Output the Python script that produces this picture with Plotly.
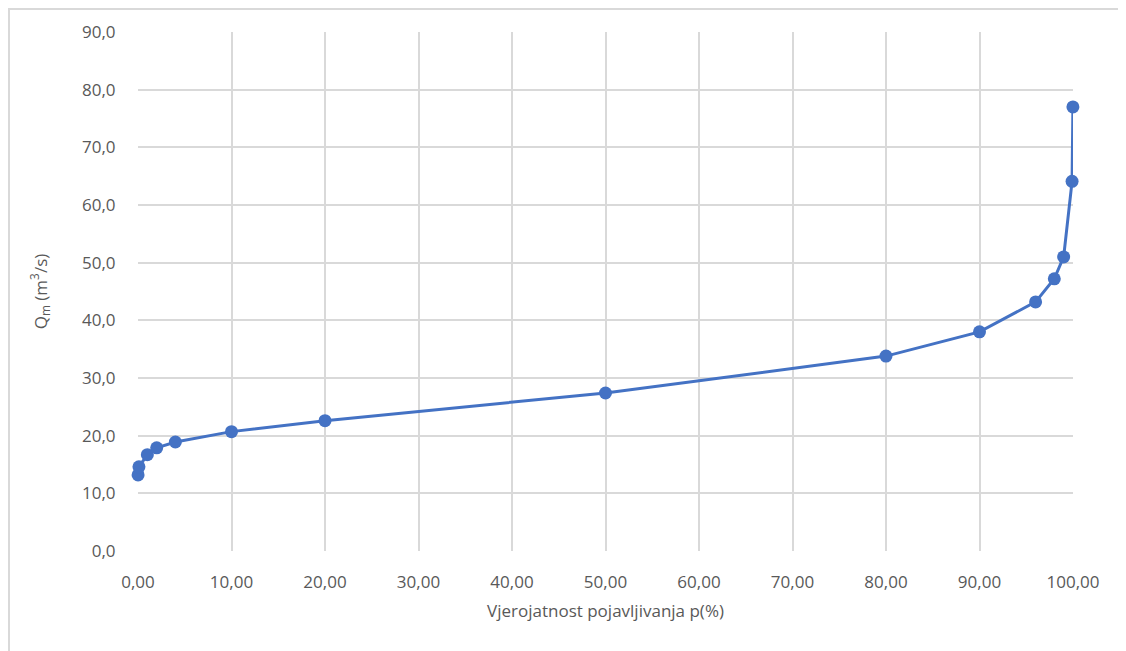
import plotly.graph_objects as go

p_percent = [0.01, 0.1, 1, 2, 4, 10, 20, 50, 80, 90, 96, 98, 99, 99.9, 99.99]
q_m = [13.2, 14.6, 16.7, 17.9, 18.9, 20.7, 22.6, 27.4, 33.8, 38.0, 43.2, 47.2, 51.0, 64.1, 77.0]

x_ticks = [0, 10, 20, 30, 40, 50, 60, 70, 80, 90, 100]
y_ticks = [0, 10, 20, 30, 40, 50, 60, 70, 80, 90]

OFF = 8  # page body margin
W, H = 1126, 651
L, T = 138 - OFF, 32 - OFF
R = W + OFF - 1073
B = H + OFF - 551
pw, ph = W - L - R, H - T - B

fig = go.Figure()
fig.add_trace(go.Scatter(
    x=p_percent, y=q_m, mode="lines+markers",
    line=dict(color="#4472C4", width=3),
    marker=dict(color="#4472C4", size=13),
    cliponaxis=False,
    showlegend=False,
))

fam = "Open Sans, DejaVu Sans, sans-serif"
fig.update_layout(
    width=W, height=H,
    margin=dict(l=L, r=R, t=T, b=B),
    paper_bgcolor="white", plot_bgcolor="white",
    separators=", ",
    xaxis=dict(
        range=[0, 100], tickvals=x_ticks, tickformat=".2f",
        showgrid=True, gridcolor="#d9d9d9", gridwidth=2,
        zeroline=False, showline=False,
        ticks="outside", ticklen=16, tickcolor="rgba(0,0,0,0)",
        tickfont=dict(family=fam, size=17, color="#595959"),
        title=dict(text="Vjerojatnost pojavljivanja p(%)", font=dict(family=fam, size=17, color="#595959"), standoff=12),
    ),
    yaxis=dict(
        range=[0, 90], tickvals=y_ticks, tickformat=".1f",
        showgrid=True, gridcolor="#d9d9d9", gridwidth=2,
        zeroline=False, showline=False,
        ticks="outside", ticklen=18, tickcolor="rgba(0,0,0,0)",
        tickfont=dict(family=fam, size=17, color="#595959"),
        title=dict(text="Q<sub>m</sub> (m<sup>3</sup>/s)", font=dict(family=fam, size=17, color="#595959"), standoff=30),
    ),
    shapes=[dict(
        type="rect", xref="paper", yref="paper",
        x0=-(L - 1) / pw, x1=(W + 20 - L) / pw,
        y0=-(H + 20 - T - ph) / ph, y1=(H - 1 - B) / ph,
        line=dict(color="#d9d9d9", width=2), layer="below",
    )],
)

fig.write_html("out.html")
